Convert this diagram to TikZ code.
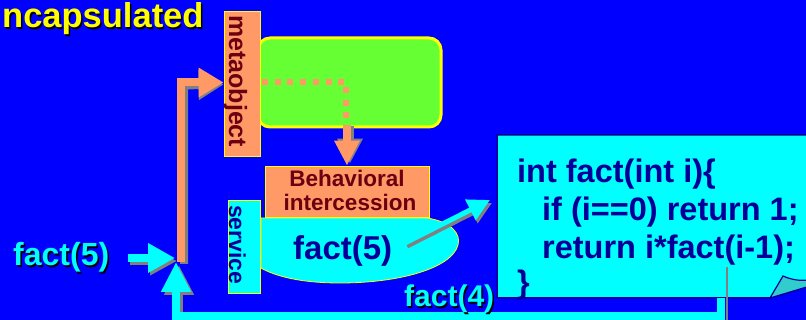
\documentclass[tikz,border=0pt]{standalone}
\usepackage{fontspec}
\setmainfont{Liberation Sans}
\usetikzlibrary{arrows.meta,calc}
\definecolor{bg}{HTML}{0000FF}
\definecolor{salmon}{HTML}{FF9966}
\definecolor{lgreen}{HTML}{66FF33}
\definecolor{yel}{HTML}{FFFF00}
\definecolor{cyn}{HTML}{00FFFF}
\definecolor{maroon}{HTML}{6B0010}
\definecolor{navy}{HTML}{000099}
\definecolor{shd}{HTML}{808080}
\definecolor{fold}{HTML}{33CCCC}
\tikzset{
  salbox/.style={fill=salmon, draw=yel, line width=0.8pt, inner sep=0pt},
  cynbox/.style={fill=cyn, draw=yel, line width=0.8pt, inner sep=0pt},
  cynarrow/.style={draw=cyn, line width=8pt, -{Triangle[length=27pt,width=28pt]}},
  lbl/.style={inner sep=0pt, font=\bfseries},
  fs/.style={font=\bfseries\fontsize{#1}{#1}\selectfont},
}
\begin{document}
\begin{tikzpicture}[x=1pt,y=-1pt]
\useasboundingbox (0,0) rectangle (806,320);
\fill[bg] (0,0) rectangle (806,320);

% title
\node[lbl, fs=34.5, anchor=base west, text=black] (title-s) at (3.5,29.5) {ncapsulated};
\node[lbl, fs=34.5, anchor=base west, text=yel] (title) at (2,28) {ncapsulated};

% green box
\draw[fill=lgreen, draw=yel, line width=3pt, rounded corners=12pt] (258,38) rectangle (441,127);
\coordinate (gin) at (262,82);
\coordinate (gturn) at (346,82);
\coordinate (gout) at (346,120);
\draw[salmon, line width=6pt, dash pattern=on 6pt off 6.7pt] (gin) -- (gturn) -- (gout);

% metaobject box
\node[salbox, minimum width=36pt, minimum height=145pt] (meta) at (242,83.5) {};
\node[lbl, fs=25, rotate=-90, anchor=base west, text=maroon] (metat) at (229,15) {metaobject};

% behavioral intercession
\node[salbox, minimum width=164pt, minimum height=51pt] (beh) at (347,191.5) {};
\node[lbl, fs=22.5, anchor=base, text=maroon] (beht1) at (347,187) {Behavioral};
\node[lbl, fs=22.5, anchor=base, text=maroon] (beht2) at (350,211) {intercession};

% arrow down into behavioral
\coordinate (dtop) at (347,125);
\draw[shd, line width=8pt, -{Triangle[length=25pt,width=24pt]}] ($(dtop)+(3,1)$) -- ($(beh.north)+(3,-2)$);
\draw[salmon, line width=8pt, -{Triangle[length=25pt,width=24pt]}] (dtop) -- (beh.north);

% ellipse-like shape
\draw[fill=cyn, draw=yel, line width=0.8pt] (261,218) -- (427,218)
  .. controls (452,222) and (461,234) .. (458,245)
  .. controls (452,268) and (400,283) .. (340,283)
  .. controls (300,283) and (275,276) .. (261,268) -- cycle;
\node[lbl, fs=33, anchor=base west, text=navy] (f5in) at (293,260) {fact(5)};

% service box
\node[cynbox, minimum width=32pt, minimum height=93pt] (serv) at (244,246.5) {};
\node[lbl, fs=23, rotate=-90, anchor=base west, text=navy] (servt) at (229,205) {service};

% code note
\draw[fill=cyn, draw=navy, line width=1.5pt] (497,135) -- (810,135) -- (810,286) -- (770,298) -- (497,298) -- cycle;
\draw[fill=fold, draw=navy, line width=1.2pt] (770,298) -- (783,276) .. controls (792,280) and (800,281) .. (810,280) -- (810,286) -- cycle;
\coordinate (codew) at (490,200);
\node[lbl, fs=32.5, anchor=base west, text=navy] (c1) at (517,183) {int fact(int i)\{};
\node[lbl, fs=32.5, anchor=base west, text=navy] (c2) at (542,221) {if (i==0) return 1;};
\node[lbl, fs=32.5, anchor=base west, text=navy] (c3) at (542,259) {return i*fact(i-1);};
\node[lbl, fs=32.5, anchor=base west, text=navy] (c4) at (517,294) {\}};

% arrow from ellipse to code
\coordinate (eout) at (405,243);
\draw[shd, line width=5pt, -{Triangle[length=22pt,width=22pt]}] ($(eout)+(2,3)$) -- ($(codew)+(2,3)$);
\draw[cyn, line width=5pt, -{Triangle[length=22pt,width=22pt]}] (eout) -- (codew);

% salmon path to metaobject
\coordinate (J) at (181,262);
\coordinate (Jc) at (181,82.5);
\draw[shd, line width=8pt, -{Triangle[length=25pt,width=28pt]}] ($(J)+(3,2)$) -- ($(Jc)+(3,3)$) -- ($(meta.west)+(0,1)$);
\draw[salmon, line width=8pt, line join=miter, -{Triangle[length=25pt,width=28pt]}] (J) -- (Jc) -- (meta.west |- Jc);

% left fact(5)
\node[lbl, fs=32, anchor=base west, text=black] (f5-s) at (14.5,267.5) {fact(5)};
\node[lbl, fs=32, anchor=base west, text=cyn] (f5) at (13,266) {fact(5)};
\coordinate (aL) at (128,258);
\coordinate (aLt) at (175,258);
\draw[shd, line width=8pt, -{Triangle[length=27pt,width=27pt]}] ($(aL)+(2,3)$) -- ($(aLt)+(2,3)$);
\draw[cynarrow] (aL) -- (aLt);

% return path fact(4)
\coordinate (rs) at (721,298);
\coordinate (rb) at (721,316);
\coordinate (rt) at (176,262);
\draw[shd, line width=8pt, -{Triangle[length=30pt,width=28pt]}] ($(rb)+(3,0)$) -- ($(176,316)+(3,0)$) -- ($(rt)+(3,3)$);
\draw[cyn, line width=8pt, line join=miter, -{Triangle[length=30pt,width=28pt]}] (rs) -- (rb) -- (176,316) -- (rt);
\draw[shd, line width=2pt] (727,267) -- (727,320);

\node[lbl, fs=30, anchor=base west, text=black] (f4-s) at (405.5,308.5) {fact(4)};
\node[lbl, fs=30, anchor=base west, text=cyn] (f4) at (404,307) {fact(4)};
\end{tikzpicture}
\end{document}
